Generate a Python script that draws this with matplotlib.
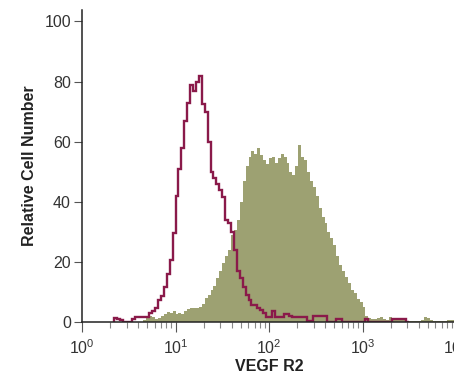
import numpy as np
import matplotlib
matplotlib.use("Agg")
import matplotlib.pyplot as plt

plt.rcParams['font.family'] = ['Liberation Sans Narrow', 'DejaVu Sans Condensed',
                               'Liberation Sans', 'DejaVu Sans']
plt.rcParams['mathtext.fontset'] = 'custom'
plt.rcParams['mathtext.rm'] = 'Liberation Sans'

# histogram channels: 32 bins per decade on a log scale
bins_per_decade = 32

# VEGF R2 stained cells (filled), first bin index and counts
green_start = 21
green_counts = [
    0.5, 1.5, 2.0, 1.5, 1.0, 1.2, 2.0, 2.5, 3.2, 3.0,
    3.5, 2.8, 3.0, 2.5, 3.8, 4.2, 4.5, 4.8, 4.5, 5.0,
    6.0, 8.0, 9.0, 10.5, 12.0, 14.5, 17.0, 19.5, 22.0, 24.0,
    29.0, 30.5, 34.0, 40.0, 47.0, 52.0, 55.0, 57.0, 56.0, 58.0,
    55.5, 54.0, 52.5, 54.5, 55.0, 53.0, 54.5, 56.0, 55.0, 53.0,
    50.0, 49.0, 52.0, 59.0, 55.0, 54.0, 50.0, 47.0, 45.0, 42.0,
    38.0, 35.0, 33.0, 30.0, 28.0, 25.5, 22.0, 19.0, 17.0, 15.0,
    13.0, 10.5, 9.5, 7.5, 6.5, 5.0, 2.0, 1.2, 1.0, 1.0,
    1.2, 1.5, 1.0, 0.8, 1.5, 1.0, 0.8, 0.5, 0.5, 0.5,
    0.3, 0.3, 0.3, 0.3, 0.3, 0.8, 1.5, 1.2, 0.8, 0.3,
    0.3, 0.3, 0.3, 0.3, 0.5, 0.8, 0.8,
]

# isotype control (outline), first bin index and counts
red_start = 11
red_counts = [
    1.3, 1.0, 0.5, 0.0, 0.0, 0.0, 1.0, 1.7, 1.7, 1.7,
    1.7, 1.7, 3.0, 3.5, 4.6, 7.3, 8.5, 11.5, 16.0, 20.6,
    29.5, 42.0, 51.0, 58.0, 67.0, 73.0, 79.0, 77.0, 80.0, 82.0,
    72.6, 70.0, 60.0, 50.0, 48.0, 46.0, 43.8, 41.5, 34.0, 33.0,
    30.0, 24.0, 17.0, 14.5, 11.6, 9.0, 7.3, 5.6, 5.6, 4.6,
    4.0, 3.0, 1.7, 1.7, 3.5, 1.7, 1.7, 1.7, 2.6, 2.6,
    2.0, 1.7, 1.7, 1.7, 1.7, 1.7, 0.4, 0.4, 2.0, 2.0,
    2.0, 2.0, 2.0, 0.0, 0.0, 0.0, 1.0, 1.0, 0.0, 0.0,
    0.0, 0.0, 0.0, 0.0, 0.0, 0.0, 1.0, 0.0, 0.0, 0.0,
    0.0, 0.0, 0.0, 0.0, 0.0, 1.0, 1.0, 1.0, 1.0, 1.0,
    0.0,
]

yticks = [0, 20, 40, 60, 80, 100]
xticks = [1, 10, 100, 1000, 10000]
xticklabels = [r'$\mathregular{10^{%d}}$' % i for i in range(5)]


def edges(start, n):
    return 10 ** (np.arange(start, start + n + 1) / bins_per_decade)


fig = plt.figure(figsize=(4.54, 3.79), dpi=100)
ax = fig.add_axes([82 / 454, 57 / 379, 374 / 454, 312 / 379])

ax.stairs(green_counts, edges(green_start, len(green_counts)),
          fill=True, color='#9da172', linewidth=0)
ax.stairs(red_counts, edges(red_start, len(red_counts)),
          color='#8a1a4a', linewidth=1.7)

ax.set_xscale('log')
ax.set_xlim(1, 10000)
ax.set_ylim(0, 103.8)
ax.set_xticks(xticks)
ax.set_xticklabels(xticklabels)
ax.set_yticks(yticks)

for s in ['top', 'right']:
    ax.spines[s].set_visible(False)
for s in ['left', 'bottom']:
    ax.spines[s].set_linewidth(1.1)
    ax.spines[s].set_color('#222222')

ax.tick_params(axis='y', length=6, width=0.8, color='#555555',
               labelsize=11.5, labelcolor='#333333', pad=2)
ax.tick_params(axis='x', which='major', length=7.5, width=0.8, color='#555555',
               labelsize=11.5, labelcolor='#333333', pad=4)
ax.tick_params(axis='x', which='minor', length=4, width=0.8, color='#888888')

ax.set_xlabel('VEGF R2', fontsize=11.5, fontweight='bold', color='#222222', labelpad=2)
ax.set_ylabel('Relative Cell Number', fontsize=11.5, fontweight='bold',
              color='#222222', labelpad=5)

fig.savefig('out.png', dpi=100)
